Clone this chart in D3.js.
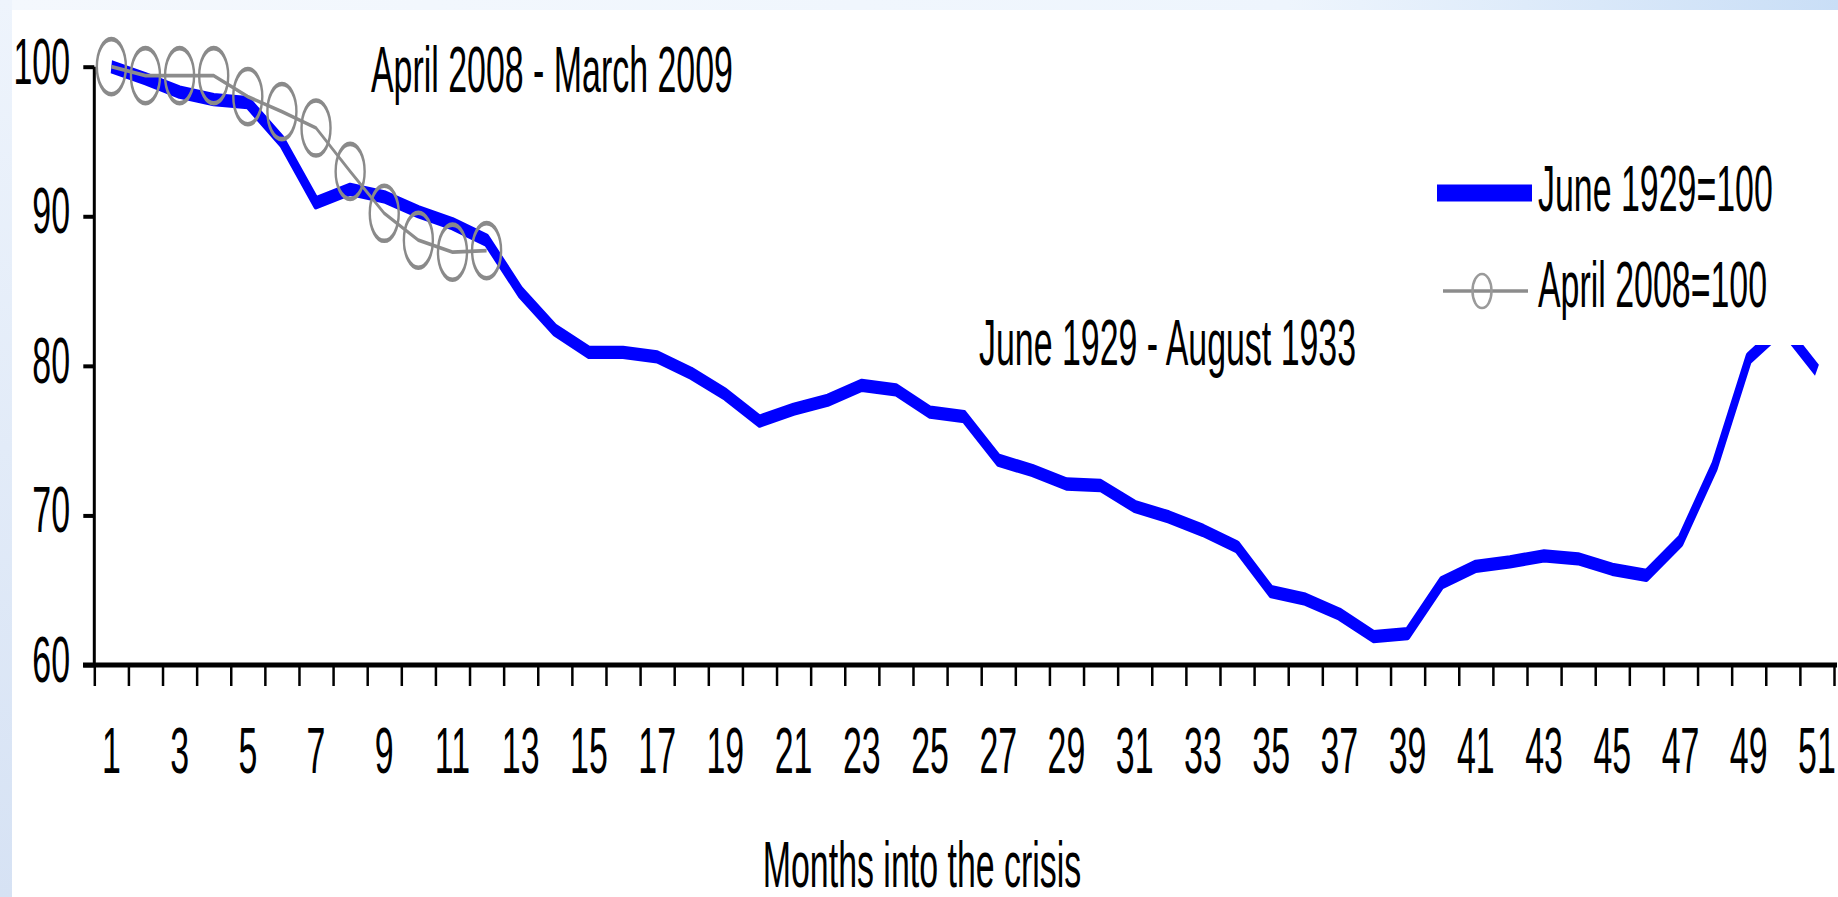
<!DOCTYPE html>
<html><head><meta charset="utf-8">
<script src="https://cdn.jsdelivr.net/npm/d3@7"></script>
<style>html,body{margin:0;padding:0;background:#fff;overflow:hidden}</style>
</head><body>
<script>
// ---------- data ----------
const months = d3.range(1, 52);
const xTickLabels = months.filter(m => m % 2 === 1);
const yTicks = [60, 70, 80, 90, 100];
const june1929 = [100, 99.2, 98.3, 97.8, 97.6, 95.0, 90.9, 91.8, 91.3, 90.3,
  89.5, 88.4, 84.9, 82.4, 80.9, 80.9, 80.6, 79.5, 78.1, 76.3,
  77.1, 77.7, 78.7, 78.4, 76.9, 76.6, 73.7, 73.0, 72.1, 72.0,
  70.6, 69.9, 69.0, 67.9, 64.9, 64.4, 63.4, 61.9, 62.1, 65.5,
  66.6, 66.9, 67.3, 67.1, 66.4, 66.0, 68.3, 73.3, 80.5, 82.6, 79.7];
const april2008 = [100, 99.4, 99.4, 99.4, 98.0, 97.0, 95.9, 93.0, 90.2, 88.4, 87.6, 87.7];
const seriesNames = ["June 1929=100", "April 2008=100"];
const annotations = ["April 2008 - March 2009", "June 1929 - August 1933"];
const xTitle = "Months into the crisis";

// ---------- layout ----------
const W = 1838, H = 897;
const K = 1.9;          // vertical stretch of the original picture
const SX = 0.53;        // horizontal squeeze of the text
const FS = 64;
const pL = 94.3, pR = 1834, pT = 66.7, pB = 665;

const svg = d3.select("body").append("svg").attr("width", W).attr("height", H)
  .style("font-family", "'Liberation Sans', Arial, sans-serif");

const defs = svg.append("defs");
const lg = defs.append("linearGradient").attr("id", "bgL").attr("x1", 0).attr("x2", 0).attr("y1", 0).attr("y2", 1);
lg.append("stop").attr("offset", 0).attr("stop-color", "#eef4fc");
lg.append("stop").attr("offset", 1).attr("stop-color", "#d6e2f4");
const tg = defs.append("linearGradient").attr("id", "bgT").attr("x1", 0).attr("x2", 1).attr("y1", 0).attr("y2", 0);
tg.append("stop").attr("offset", 0).attr("stop-color", "#f4f8fd");
tg.append("stop").attr("offset", 0.7).attr("stop-color", "#eef5fd");
tg.append("stop").attr("offset", 1).attr("stop-color", "#c9def6");

svg.append("rect").attr("x", 0).attr("y", 0).attr("width", W).attr("height", 10).attr("fill", "url(#bgT)");
svg.append("rect").attr("x", 0).attr("y", 0).attr("width", 12).attr("height", H).attr("fill", "url(#bgL)");

const x = d3.scaleBand().domain(months).range([pL, pR]);
const xEdge = d3.scaleLinear().domain([0.5, 51.5]).range([pL, pR]);
const y = d3.scaleLinear().domain([60, 100]).range([pB, pT]);
const ys = d3.scaleLinear().domain([60, 100]).range([pB / K, pT / K]);
const xc = m => x(m) + x.bandwidth() / 2;

function txt(g, px, py, str, anchor) {
  return g.append("text")
    .attr("transform", `translate(${px},${py}) scale(${SX},1)`)
    .attr("text-anchor", anchor || "start")
    .attr("font-size", FS)
    .attr("fill", "#000")
    .text(str);
}

// ---------- axes ----------
const yAxis = svg.append("g").attr("transform", `translate(${pL},0)`)
  .call(d3.axisLeft(y).tickValues(yTicks).tickSize(11).tickFormat(""));
yAxis.select(".domain").remove();
yAxis.selectAll(".tick line").attr("stroke", "#000").attr("stroke-width", 4);
svg.append("line").attr("x1", pL).attr("x2", pL).attr("y1", pT).attr("y2", pB)
  .attr("stroke", "#000").attr("stroke-width", 3);
yTicks.forEach(v => txt(svg, 70, y(v) + 17, String(v), "end"));

const xAxis = svg.append("g").attr("transform", `translate(0,${pB})`)
  .call(d3.axisBottom(xEdge).tickValues(d3.range(0.5, 52, 1)).tickSize(21).tickFormat(""));
xAxis.select(".domain").remove();
xAxis.selectAll(".tick line").attr("stroke", "#000").attr("stroke-width", 2.5);
svg.append("line").attr("x1", 83).attr("x2", 1837).attr("y1", pB).attr("y2", pB)
  .attr("stroke", "#000").attr("stroke-width", 5);
xTickLabels.forEach(m => txt(svg, xc(m), 773, String(m), "middle"));

txt(svg, 922, 887, xTitle, "middle");

// ---------- series (drawn in a vertically stretched group) ----------
const sg = svg.append("g").attr("transform", `scale(1,${K})`);
const line = d3.line().x((d, i) => xc(i + 1)).y(d => ys(d));
sg.append("path").datum(june1929).attr("d", line)
  .attr("fill", "none").attr("stroke", "#0000ff").attr("stroke-width", 7)
  .attr("stroke-linejoin", "round");
sg.append("path").datum(april2008).attr("d", line)
  .attr("fill", "none").attr("stroke", "#8c8c8c").attr("stroke-width", 2);
sg.selectAll("circle.m").data(april2008).enter().append("circle")
  .attr("cx", (d, i) => xc(i + 1)).attr("cy", d => ys(d)).attr("r", 14.5)
  .attr("fill", "none").attr("stroke", "#8a8a8a").attr("stroke-width", 2.4);

// ---------- annotations ----------
txt(svg, 371, 92, annotations[0]);
txt(svg, 979, 365, annotations[1]);

// ---------- legend (white box drawn over the plot, as in the original) ----------
const leg = svg.append("g");
leg.append("rect").attr("x", 1425).attr("y", 140).attr("width", 380).attr("height", 205).attr("fill", "#fff");
leg.append("line").attr("x1", 1437).attr("x2", 1532).attr("y1", 193).attr("y2", 193)
  .attr("stroke", "#0000ff").attr("stroke-width", 17).attr("stroke-linecap", "butt");
txt(leg, 1538, 211, seriesNames[0]);
leg.append("line").attr("x1", 1443).attr("x2", 1528).attr("y1", 291).attr("y2", 291)
  .attr("stroke", "#8c8c8c").attr("stroke-width", 3.5);
leg.append("ellipse").attr("cx", 1482).attr("cy", 291).attr("rx", 9.5).attr("ry", 17)
  .attr("fill", "none").attr("stroke", "#9a9a9a").attr("stroke-width", 2.5);
txt(leg, 1538, 307, seriesNames[1]);
</script>
</body></html>
